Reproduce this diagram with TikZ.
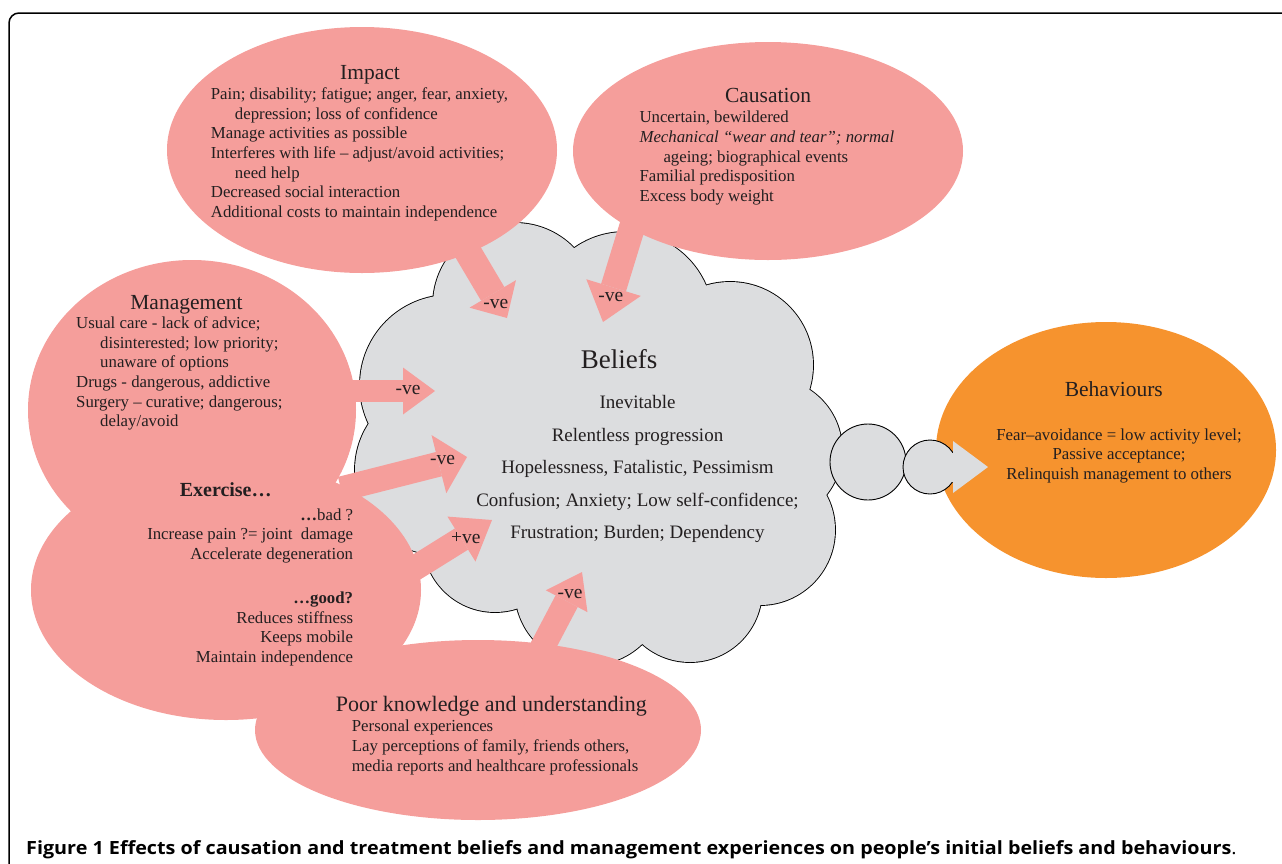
\documentclass[tikz,border=0pt]{standalone}
\usepackage{fontspec}
\setmainfont{Liberation Serif}
\newfontfamily\capfont{Open Sans}
\usetikzlibrary{arrows.meta,shapes.geometric}
\definecolor{pinkc}{RGB}{245,158,155}
\definecolor{orangec}{RGB}{246,147,46}
\definecolor{cloudc}{RGB}{220,221,223}
\definecolor{txt}{RGB}{35,31,32}
\begin{document}
\begin{tikzpicture}[x=1pt,y=-1pt,
  pinkblob/.style={ellipse, fill=pinkc, draw=none, inner sep=0pt},
  body/.style={font=\fontsize{16.8}{19.7}\selectfont, text=txt, inner sep=0pt, align=left, anchor=north west},
  ttl/.style={font=\fontsize{21.5}{24}\selectfont, text=txt, inner sep=0pt, anchor=base},
  lbl/.style={font=\fontsize{19.5}{22}\selectfont, text=txt, inner sep=0pt, anchor=base},
  blockarrow/.style args={#1/#2/#3}{draw=pinkc, line width=#1pt, -{Triangle[width=#2pt,length=#3pt,line width=0pt]}},
  grayarrow/.style args={#1/#2/#3}{draw=cloudc, line width=#1pt, -{Triangle[width=#2pt,length=#3pt,line width=0pt]}},
  bubble/.style={circle, fill=cloudc, draw=black, line width=0.9pt, inner sep=0pt}
]
\useasboundingbox (0,0) rectangle (1282,863);
% frame
\draw[line width=1.5pt, rounded corners=10pt] (9,13) rectangle (1320,900);

% behaviours ellipse
\node[ellipse, fill=orangec, inner sep=0pt, minimum width=340pt, minimum height=256pt] (beh) at (1106,450) {};

% cloud: outline pass then fill pass
\foreach \cx/\cy/\cr in {450/385/90, 515/305/82, 625/320/88, 730/365/83, 770/450/72, 760/530/75, 690/590/72, 590/590/75, 495/540/72, 440/470/85}
  {\draw[line width=1.8pt] (\cx,\cy) circle[radius=\cr pt];}
\foreach \cx/\cy/\cr in {450/385/90, 515/305/82, 625/320/88, 730/365/83, 770/450/72, 760/530/75, 690/590/72, 590/590/75, 495/540/72, 440/470/85}
  {\fill[cloudc] (\cx,\cy) circle[radius=\cr pt];}
\fill[cloudc] (600,445) ellipse[x radius=190pt, y radius=150pt];

% small bubbles
\node[bubble, minimum size=76pt] (bub1) at (868,462) {};
\node[bubble, minimum size=54pt] (bub2) at (930,467) {};
\coordinate (gtip) at (988,467);
\draw[grayarrow=29/52/35] (bub2.center) -- (gtip);

% arrow start/end coordinates
\coordinate (s1) at (446,215);  \coordinate (t1) at (507,318);
\coordinate (s2) at (641,198);  \coordinate (t2) at (603,322);
\coordinate (s3) at (330,391);  \coordinate (t3) at (435,391);
\coordinate (s4) at (341,489);  \coordinate (t4) at (467,457);
\coordinate (s5) at (399,578);  \coordinate (t5) at (492,520);
\coordinate (s6) at (531,669);  \coordinate (t6) at (582,572);
\draw[blockarrow=27/54/28] (s1) -- (t1);
\draw[blockarrow=26/57/36] (s2) -- (t2);
\draw[blockarrow=22/47/32] (s3) -- (t3);
\draw[blockarrow=25/60/29] (s4) -- (t4);
\draw[blockarrow=25/53/36] (s5) -- (t5);
\draw[blockarrow=25/47/33] (s6) -- (t6);

% pink ellipses
\node[pinkblob, minimum width=328pt, minimum height=300pt] (mgmt) at (192,410) {};
\node[pinkblob, minimum width=390pt, minimum height=260pt] (exer) at (226,590) {};
\node[pinkblob, minimum width=446pt, minimum height=180pt] (poor) at (478,730) {};
\node[pinkblob, minimum width=390pt, minimum height=246pt] (impact) at (362,150) {};
\node[pinkblob, minimum width=390pt, minimum height=218pt] (caus) at (768,151) {};

% Impact
\node[ttl] (impactT) at (370,79.3) {Impact};
\node[body] (impactB) at (210.7,85.5) {\strut Pain; disability; fatigue; anger, fear, anxiety,\\
\hspace*{24pt}depression; loss of confidence\\
Manage activities as possible\\
Interferes with life – adjust/avoid activities;\\
\hspace*{24pt}need help\\
Decreased social interaction\\
Additional costs to maintain independence};

% Causation
\node[ttl] (causT) at (768,102.3) {Causation};
\node[body] (causB) at (639.3,108.9) {\strut Uncertain, bewildered\\
\textit{Mechanical “wear and tear”; normal}\\
\hspace*{24pt}ageing; biographical events\\
Familial predisposition\\
Excess body weight};

% Management
\node[ttl] (mgmtT) at (186.5,309) {Management};
\node[body] (mgmtB) at (76,314.5) {\strut Usual care - lack of advice;\\
\hspace*{24pt}disinterested; low priority;\\
\hspace*{24pt}unaware of options\\
Drugs - dangerous, addictive\\
Surgery – curative; dangerous;\\
\hspace*{24pt}delay/avoid};

% Exercise
\node[ttl, font=\fontsize{20}{24}\selectfont\bfseries] (exerT) at (225.7,496.7) {Exercise…};
\node[body, anchor=north east, align=right] (exerBad) at (353.3,506.2) {\strut\textbf{…}bad ?\\
Increase pain ?= joint\ \ damage\\
Accelerate degeneration};
\node[body, anchor=north east, align=right] (exerGood) at (353.3,589.5) {\strut\textbf{…good?}\\
Reduces stiffness\\
Keeps mobile\\
Maintain independence};

% Poor knowledge
\node[ttl, font=\fontsize{22}{24}\selectfont] (poorT) at (491.3,711.7) {Poor knowledge and understanding};
\node[body] (poorB) at (351.7,717.9) {\strut Personal experiences\\
Lay perceptions of family, friends others,\\
media reports and healthcare professionals};

% Beliefs
\node[ttl, font=\fontsize{27}{30}\selectfont] (belT) at (619,368.3) {Beliefs};
\node[body, font=\fontsize{19}{32.5}\selectfont, anchor=north, align=center] (belB) at (637.5,385.6) {\strut Inevitable\\
Relentless progression\\
Hopelessness, Fatalistic, Pessimism\\
Confusion; Anxiety; Low self-confidence;\\
Frustration; Burden; Dependency};

% Behaviours
\node[ttl] (behT) at (1113.8,396.7) {Behaviours};
\node[body, anchor=north, align=center] (behB) at (1119,426.2) {\strut Fear–avoidance = low activity level;\\
Passive acceptance;\\
Relinquish management to others};

% labels
\node[lbl] (l1) at (495.8,308.3) {-ve};
\node[lbl] (l2) at (610.8,301) {-ve};
\node[lbl] (l3) at (408,394.3) {-ve};
\node[lbl] (l4) at (442.5,464.3) {-ve};
\node[lbl] (l5) at (465.7,543.3) {+ve};
\node[lbl] (l6) at (570,598.3) {-ve};

% caption
\node[anchor=base west, inner sep=0pt, text=black, font=\capfont\fontsize{18.2}{21}\selectfont] (cap) at (26,854) {\scalebox{1.085}[1]{\textbf{Figure 1 Effects of causation and treatment beliefs and management experiences on people’s initial beliefs and behaviours}.}};
\end{tikzpicture}
\end{document}
